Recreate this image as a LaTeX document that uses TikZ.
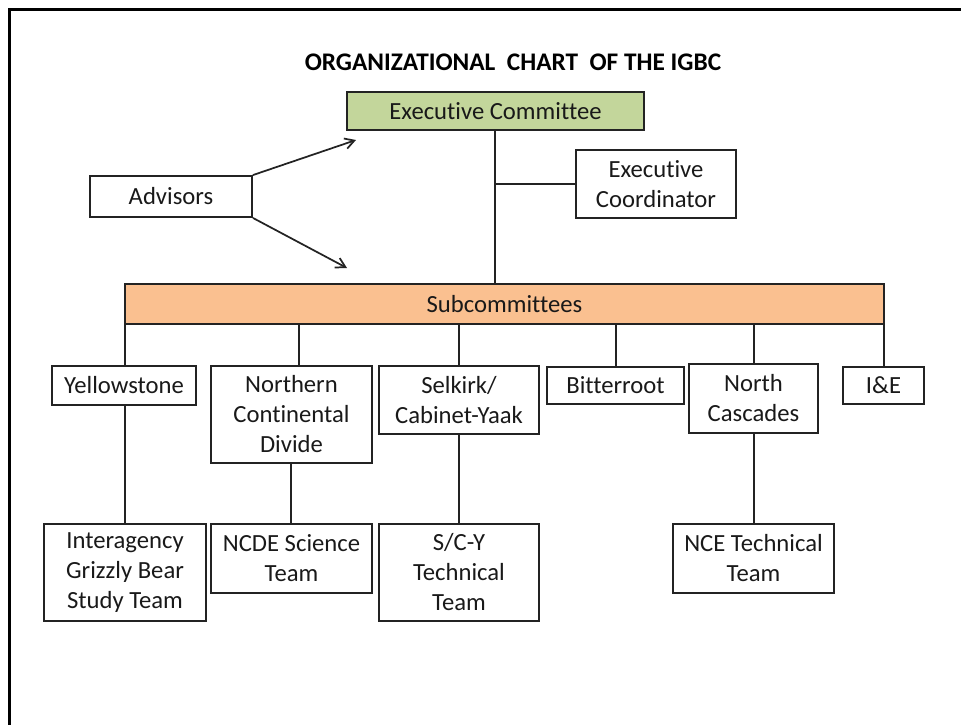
\documentclass[tikz,border=0pt]{standalone}
\usepackage{fontspec}
\setmainfont{Carlito}[Ligatures=NoCommon]
\usetikzlibrary{arrows.meta}
\definecolor{execgreen}{RGB}{195,214,155}
\definecolor{suborange}{RGB}{250,192,144}
\definecolor{edge}{RGB}{35,35,35}
\begin{document}
\begin{tikzpicture}[x=0.75pt,y=-0.75pt,
  box/.style={draw=edge, line width=1.4pt, align=center, inner sep=0pt,
    font=\fontsize{18.5}{22.5}\selectfont, text=black!90},
  sz/.style 2 args={minimum width=#1*0.75pt, minimum height=#2*0.75pt},
  conn/.style={draw=edge, line width=1.4pt},
  arr/.style={draw=edge, line width=1.3pt, -{Straight Barb[length=7pt,width=8pt,line width=1.3pt]}},
  titletext/.style={font=\fontsize{19}{22}\selectfont\bfseries, text=black, inner sep=0pt}]
\useasboundingbox (0,0) rectangle (961,725);
% outer frame (extends beyond the picture at right and bottom)
\draw[line width=1.8pt, black] (9.5,730) -- (9.5,9.5) -- (970,9.5);

\node[titletext] (title) at (513,62) {ORGANIZATIONAL \ CHART \ OF THE IGBC};

\node[box, sz={297}{38}, fill=execgreen] (exec) at (495.5,111) {Executive Committee};
\node[box, sz={160}{68}] (coord) at (656,184) {Executive\\Coordinator};
\node[box, sz={162}{41}] (adv) at (171,196.5) {Advisors};
\node[box, sz={759}{40}, fill=suborange] (sub) at (504.5,304) {Subcommittees};

\node[box, sz={144}{39}] (yel) at (124,385.5) {Yellowstone};
\node[box, sz={161}{97}] (ncd) at (291.5,414.5) {Northern\\Continental\\Divide};
\node[box, sz={160}{68}] (sel) at (459,400) {Selkirk/\\Cabinet-Yaak};
\node[box, sz={137}{37}] (bit) at (615.5,385.5) {Bitterroot};
\node[box, sz={129}{69}] (nc) at (753.5,398.5) {North\\Cascades};
\node[box, sz={81}{37}] (ie) at (883.5,385.5) {I\&E};

\node[box, sz={162}{97}] (igbst) at (125,572.5) {Interagency\\Grizzly Bear\\Study Team};
\node[box, sz={161}{69}] (ncdes) at (291.5,558.5) {NCDE Science\\Team};
\node[box, sz={160}{97}] (scy) at (459,572.5) {S/C-Y\\Technical\\Team};
\node[box, sz={161}{69}] (nce) at (753.5,558.5) {NCE Technical\\Team};

% connectors
\coordinate (ej) at (495,184);
\draw[conn] (exec.south -| ej) -- (sub.north -| ej);
\draw[conn] (ej) -- (coord.west);

\coordinate (a1) at (356,140);
\coordinate (a2) at (347,268);
\draw[arr] (adv.north east) -- (a1);
\draw[arr] (adv.south east) -- (a2);

\foreach \n/\x in {yel/125, ncd/299, sel/459, bit/616, nc/754, ie/884}{
  \draw[conn] (sub.south -| {(\x,0)}) -- (\n.north -| {(\x,0)});
}
\draw[conn] (yel.south -| igbst.north) -- (igbst.north);
\coordinate (ncdx) at (291,0);
\draw[conn] (ncd.south -| ncdx) -- (ncdes.north -| ncdx);
\draw[conn] (sel.south) -- (scy.north);
\coordinate (ncx) at (754,0);
\draw[conn] (nc.south -| ncx) -- (nce.north -| ncx);
\end{tikzpicture}
\end{document}
